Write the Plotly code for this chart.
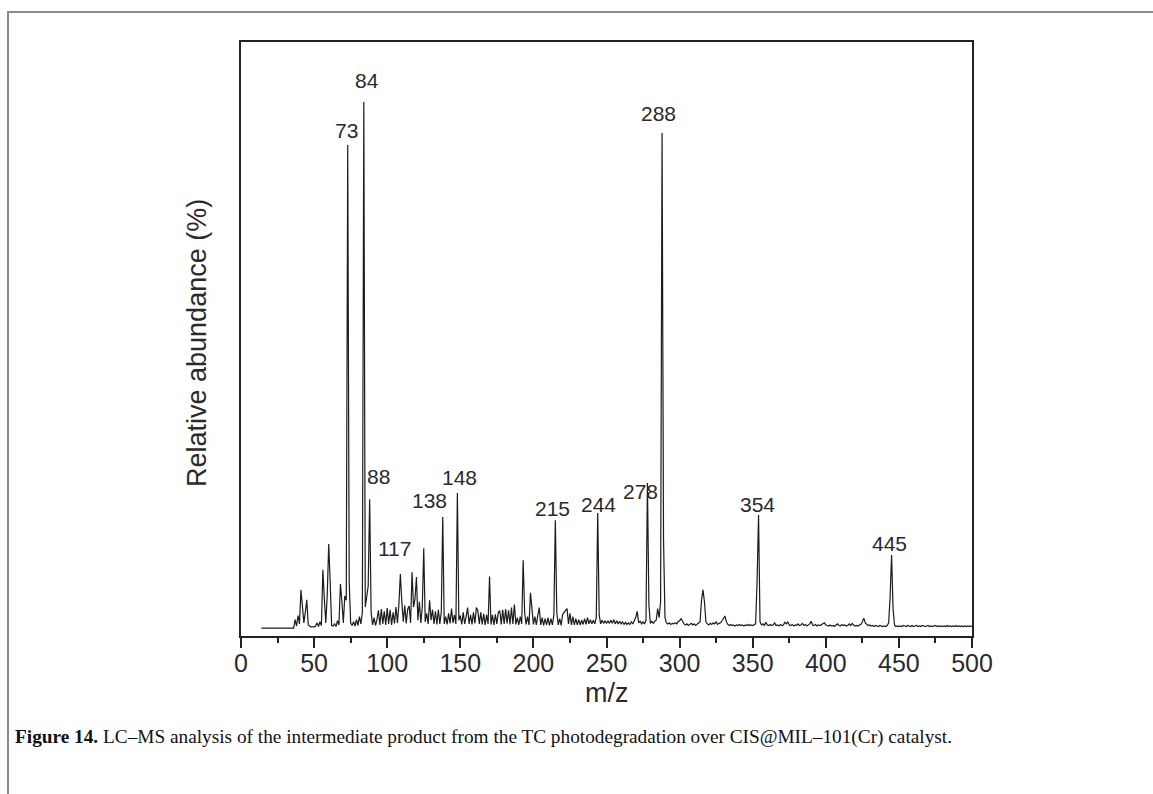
import plotly.graph_objects as go

# ---- data (m/z profile; relative abundance, %) ----
mz_lead = [14, 36]
ab_lead = [0.0, 0.0]

ab_037_099 = [1.6, 0.4, 2.4, 0.8, 7.3, 4.8, 1.0, 3.0, 5.4, 0.6,   # 37-46
              0.3, 0.2, 0.3, 0.2, 0.4, 1.0, 0.3, 1.2, 0.5, 11.1,  # 47-56
              5.6, 1.0, 6.4, 16.0, 8.7, 0.5, 0.4, 0.8, 0.3, 1.4,  # 57-66
              0.6, 8.4, 5.1, 1.0, 6.1, 5.3, 91.8, 8.7, 1.0, 0.5,  # 67-76
              1.2, 0.4, 1.6, 0.5, 2.2, 0.8, 3.0, 100.0, 4.0, 6.0, # 77-86
              8.0, 24.5, 3.0, 0.6, 2.0, 0.5, 1.6, 3.4, 0.6, 3.6,  # 87-96
              0.8, 3.2, 0.6]                                      # 97-99
ab_100_199 = [3.8, 0.8, 3.5, 0.6, 3.0, 0.9, 4.0, 1.0, 4.5, 10.3,  # 100-109
              5.0, 1.2, 4.3, 0.9, 3.6, 4.2, 1.0, 10.6, 4.0, 5.5,  # 110-119
              9.7, 1.5, 5.0, 1.0, 4.0, 15.2, 1.2, 2.8, 0.8, 5.3,  # 120-129
              1.5, 3.5, 0.8, 3.2, 0.7, 3.5, 0.8, 3.0, 21.1, 0.8,  # 130-139
              2.2, 0.7, 2.8, 0.9, 3.7, 1.0, 2.5, 0.8, 25.7, 1.5,  # 140-149
              2.4, 0.7, 3.0, 0.8, 2.2, 3.9, 0.8, 2.5, 0.7, 3.0,   # 150-159
              0.9, 3.9, 3.3, 0.8, 3.0, 0.7, 2.7, 0.6, 2.5, 0.8,   # 160-169
              9.8, 0.7, 2.5, 0.6, 2.6, 0.8, 3.0, 3.3, 0.7, 3.5,   # 170-179
              0.8, 3.6, 0.9, 3.4, 0.7, 3.9, 0.8, 4.5, 0.7, 2.0,   # 180-189
              0.6, 2.2, 0.8, 12.9, 3.0, 0.7, 2.2, 0.6, 6.7, 2.8]  # 190-199
ab_200_299 = [0.7, 2.2, 0.6, 2.4, 3.9, 0.6, 2.0, 0.5, 1.8, 0.6,   # 200-209
              2.0, 0.5, 1.8, 0.6, 2.5, 20.5, 3.0, 0.6, 1.8, 0.5,  # 210-219
              2.6, 3.0, 3.3, 3.7, 0.8, 2.8, 0.6, 2.2, 0.6, 1.8,   # 220-229
              0.6, 1.6, 0.6, 1.5, 0.7, 1.8, 0.7, 2.0, 0.8, 1.6,   # 230-239
              0.8, 1.5, 0.8, 2.0, 21.9, 2.5, 0.8, 1.5, 0.9, 1.4,  # 240-249
              0.9, 1.4, 0.9, 1.5, 0.9, 1.6, 0.8, 1.4, 0.8, 1.3,   # 250-259
              0.8, 1.2, 0.7, 1.1, 0.7, 1.0, 0.7, 1.2, 0.8, 1.5,   # 260-269
              2.0, 3.2, 1.0, 1.3, 0.8, 1.2, 0.8, 1.4, 27.6, 4.4,  # 270-279
              0.9, 1.3, 0.9, 1.3, 1.5, 3.7, 2.0, 5.0, 94.1, 17.0, # 280-289
              2.0, 1.0, 0.8, 1.0, 0.7, 0.9, 0.8, 1.0, 0.8, 1.2]   # 290-299
ab_300_399 = [1.4, 1.8, 1.2, 0.8, 0.6, 0.8, 0.5, 0.7, 0.9, 0.6,   # 300-309
              0.8, 0.5, 0.7, 0.9, 1.2, 5.3, 7.3, 5.0, 1.2, 0.8,   # 310-319
              0.6, 0.9, 0.7, 1.0, 0.8, 1.2, 0.7, 0.9, 1.0, 1.4,   # 320-329
              1.8, 2.3, 1.2, 0.7, 0.5, 0.7, 0.5, 0.6, 0.4, 0.6,   # 330-339
              0.5, 0.7, 0.5, 0.6, 0.4, 0.6, 0.5, 0.7, 0.5, 0.6,   # 340-349
              0.5, 0.7, 0.8, 9.0, 21.5, 1.2, 0.6, 0.8, 0.5, 1.1,  # 350-359
              0.6, 0.5, 0.7, 0.5, 0.6, 1.0, 0.5, 0.6, 0.4, 0.7,   # 360-369
              0.5, 0.6, 1.1, 0.8, 1.2, 0.6, 0.5, 0.7, 0.4, 0.6,   # 370-379
              0.5, 0.8, 0.5, 0.6, 0.9, 0.5, 0.7, 0.4, 0.6, 0.8,   # 380-389
              1.3, 0.6, 0.5, 0.7, 0.4, 0.6, 0.5, 0.7, 0.9, 1.0]   # 390-399
ab_400_500 = [0.6, 0.5, 0.4, 0.6, 0.4, 0.5, 0.3, 0.6, 0.8, 0.5,   # 400-409
              0.4, 0.7, 0.5, 0.6, 0.4, 0.5, 0.8, 0.5, 0.9, 0.6,   # 410-419
              0.4, 0.5, 0.4, 0.6, 0.7, 1.2, 1.9, 1.0, 0.7, 0.5,   # 420-429
              0.6, 0.4, 0.5, 0.3, 0.5, 0.4, 0.3, 0.5, 0.4, 0.3,   # 430-439
              0.4, 0.3, 0.5, 1.0, 6.0, 13.9, 3.7, 0.6, 0.3, 0.4,  # 440-449
              0.3, 0.4, 0.3, 0.5, 0.4, 0.3, 0.5, 0.4, 0.3, 0.5,   # 450-459
              0.3, 0.4, 0.5, 0.3, 0.4, 0.3, 0.5, 0.4, 0.3, 0.4,   # 460-469
              0.5, 0.3, 0.4, 0.3, 0.4, 0.5, 0.3, 0.4, 0.3, 0.4,   # 470-479
              0.3, 0.4, 0.3, 0.5, 0.3, 0.4, 0.3, 0.4, 0.3, 0.5,   # 480-489
              0.3, 0.4, 0.3, 0.4, 0.3, 0.4, 0.3, 0.4, 0.3, 0.4,   # 490-499
              0.3]                                                # 500

peak_labels = ["73", "84", "88", "117", "138", "148", "215", "244", "278", "288", "354", "445"]
label_mz = [72.2, 86.2, 93.9, 105.2, 129.1, 149.2, 213.4, 244.2, 273.0, 285.9, 353.6, 443.9]
label_ab = [94.6, 104.0, 28.8, 15.2, 24.3, 28.7, 22.8, 23.4, 25.9, 97.9, 23.4, 16.0]

x_ticks = [0, 50, 100, 150, 200, 250, 300, 350, 400, 450, 500]

# ---- assemble profile ----
blocks = [ab_037_099, ab_100_199, ab_200_299, ab_300_399, ab_400_500]
abund = list(ab_lead)
for b in blocks:
    abund += b
mz = list(mz_lead) + list(range(37, 37 + len(abund) - len(ab_lead)))

fig = go.Figure()
fig.add_trace(go.Scatter(x=mz, y=abund, mode="lines",
                         line=dict(color="#1c1c1c", width=1.2), hoverinfo="skip",
                         showlegend=False))

for t, xv, yv in zip(peak_labels, label_mz, label_ab):
    fig.add_annotation(x=xv, y=yv, text=t, showarrow=False, xanchor="center", yanchor="middle",
                       font=dict(family="Liberation Sans, Arial, sans-serif", size=21, color="#2a2a2a"))

L, R, T, B = 241, 181, 42, 158
W, H = 1153, 794
pw, ph = W - L - R, H - T - B

def px(xp):
    return (xp - L) / pw

def py(yp):
    return (H - B - yp) / ph

fig.add_annotation(xref="paper", yref="paper", x=0.5, y=py(693), text="m/z", showarrow=False,
                   xanchor="center", yanchor="middle",
                   font=dict(family="Liberation Sans, Arial, sans-serif", size=27, color="#2a2a2a"))
fig.add_annotation(xref="paper", yref="paper", x=px(197), y=py(343), text="Relative abundance (%)",
                   showarrow=False, textangle=-90, xanchor="center", yanchor="middle",
                   font=dict(family="Liberation Sans, Arial, sans-serif", size=27, color="#2a2a2a"))
fig.add_annotation(xref="paper", yref="paper", x=px(13), y=py(737), xanchor="left", yanchor="middle",
                   showarrow=False,
                   text="<b>Figure 14.</b> LC–MS analysis of the intermediate product from the TC photodegradation over CIS@MIL–101(Cr) catalyst.",
                   font=dict(family="Liberation Serif, Times New Roman, serif", size=19.3, color="#111111"))

fig.add_shape(type="rect", xref="paper", yref="paper", x0=px(8), x1=px(1170), y0=py(820), y1=py(12),
              line=dict(color="#8a8a8a", width=2), fillcolor="rgba(0,0,0,0)", layer="below")

fig.update_layout(
    width=W, height=H,
    margin=dict(l=L, r=R, t=T, b=B, pad=0),
    paper_bgcolor="white", plot_bgcolor="white",
    xaxis=dict(range=[0, 500], tickvals=x_ticks, ticktext=[str(v) for v in x_ticks],
               ticks="outside", ticklen=10, tickwidth=1.5, tickcolor="#222",
               ticklabelstandoff=-6,
               minor=dict(dtick=25, tick0=0, ticks="outside", ticklen=5, tickwidth=1.5, tickcolor="#222"),
               showline=True, linecolor="#222", linewidth=2, mirror=True,
               showgrid=False, zeroline=False,
               tickfont=dict(family="Liberation Sans, Arial, sans-serif", size=25, color="#2a2a2a")),
    yaxis=dict(range=[-1.5, 111.4], showticklabels=False, ticks="",
               showline=True, linecolor="#222", linewidth=2, mirror=True,
               showgrid=False, zeroline=False),
)

fig.write_html("out.html")
